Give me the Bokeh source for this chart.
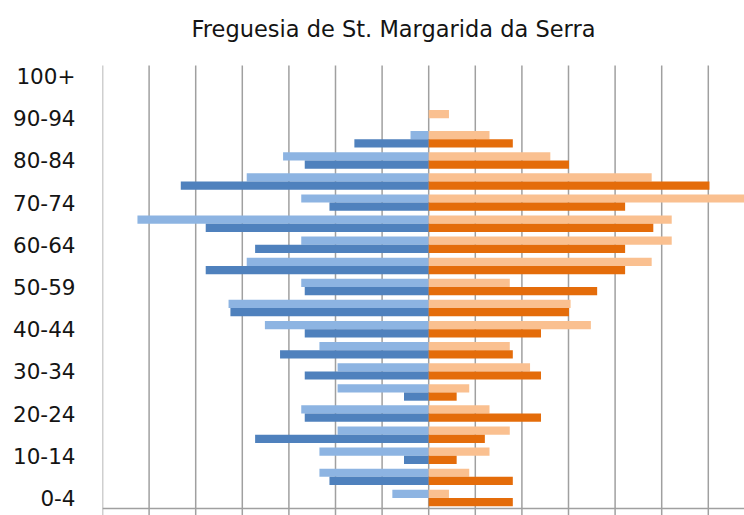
from bokeh.plotting import figure
from bokeh.models import Range1d, FixedTicker, ColumnDataSource, Span, Label
from bokeh.transform import dodge
from bokeh.embed import file_html
from bokeh.resources import INLINE

# Age groups, bottom to top (labels as printed on the original chart)
ages = ["0-4", "5-9", "10-14", "15-19", "20-24", "25-29", "30-34", "35-39",
        "40-44", "45-49", "50-59", "55-59", "60-64", "65-69", "70-74", "75-79",
        "80-84", "85-89", "90-94", "95-99", "100+"]
shown_labels = ["0-4", "10-14", "20-24", "30-34", "40-44", "50-59", "60-64",
                "70-74", "80-84", "90-94", "100+"]

# Percent of population in each age group
male_light = [1.56, 4.69, 4.69, 3.91, 5.47, 3.91, 3.91, 4.69, 7.03, 8.59, 5.47,
              7.81, 5.47, 12.50, 5.47, 7.81, 6.25, 0.78, 0, 0, 0]
male_dark = [0, 4.26, 1.06, 7.45, 5.32, 1.06, 5.32, 6.38, 5.32, 8.51, 5.32,
             9.57, 7.45, 9.57, 4.26, 10.64, 5.32, 3.19, 0, 0, 0]
female_light = [0.87, 1.74, 2.61, 3.48, 2.61, 1.74, 4.35, 3.48, 6.96, 6.09, 3.48,
                9.57, 10.43, 10.43, 13.91, 9.57, 5.22, 2.61, 0.87, 0, 0]
female_dark = [3.61, 3.61, 1.20, 2.41, 4.82, 1.20, 4.82, 3.61, 4.82, 6.02, 7.23,
               8.43, 8.43, 9.64, 8.43, 12.05, 6.02, 3.61, 0, 0, 0]

grid_ticks = [-14, -12, -10, -8, -6, -4, -2, 0, 2, 4, 6, 8, 10, 12]
title_text = "Freguesia de St. Margarida da Serra"

n = len(ages)
ypos = list(range(n))
source = ColumnDataSource(dict(
    ypos=ypos,
    age=ages,
    male_light=[-v for v in male_light],
    male_dark=[-v for v in male_dark],
    female_light=female_light,
    female_dark=female_dark,
))

W, H = 744, 515
LEFT = 102
PX = 443 / n                     # pixels per age band
XPX = 23.3                       # pixels per percent
cat_lo, cat_hi = -0.5, n - 0.5   # extent of the age bands
y_lo = cat_lo - 7 / PX           # room for tick marks below the base line
y_hi = cat_hi + 65 / PX          # room for the title above the bands

p = figure(width=W, height=H, output_backend="svg",
           toolbar_location=None, x_axis_location=None,
           y_range=Range1d(y_lo, y_hi),
           x_range=Range1d(-14, -14 + (W - LEFT) / XPX),
           min_border_left=LEFT, min_border_right=0, min_border_top=0,
           min_border_bottom=0)

LIGHT_BLUE = "#8DB4E2"
DARK_BLUE = "#4F81BD"
LIGHT_ORANGE = "#FAC090"
DARK_ORANGE = "#E46C0A"
GRID = "#A0A0A0"
FONT = "DejaVu Sans"

# vertical grid lines (extending below the base line as tick marks)
p.segment(x0=grid_ticks, x1=grid_ticks, y0=[y_lo] * len(grid_ticks),
          y1=[cat_hi] * len(grid_ticks), line_color=GRID, line_width=1.5)
p.xgrid.visible = False
p.ygrid.visible = False

h = 0.39
p.hbar(y=dodge("ypos", 0.195), left="male_light", right=0,
       height=h, source=source, fill_color=LIGHT_BLUE, line_color=None)
p.hbar(y=dodge("ypos", -0.195), left="male_dark", right=0,
       height=h, source=source, fill_color=DARK_BLUE, line_color=None)
p.hbar(y=dodge("ypos", 0.195), left=0, right="female_light",
       height=h, source=source, fill_color=LIGHT_ORANGE, line_color=None)
p.hbar(y=dodge("ypos", -0.195), left=0, right="female_dark",
       height=h, source=source, fill_color=DARK_ORANGE, line_color=None)

# category axis base line
p.add_layout(Span(location=cat_lo, dimension="width", line_color=GRID,
                  line_width=1.5))

p.yaxis.ticker = FixedTicker(ticks=[i for i, a in zip(ypos, ages) if a in shown_labels])
p.yaxis.major_label_overrides = {i: a for i, a in zip(ypos, ages) if a in shown_labels}
p.yaxis.axis_line_color = None
p.yaxis.major_tick_line_color = None
p.yaxis.minor_tick_line_color = None
p.yaxis.major_tick_out = 0
p.yaxis.major_tick_in = 0
p.yaxis.major_label_standoff = 27
p.yaxis.major_label_text_font = FONT
p.yaxis.major_label_text_font_size = "21.5px"
p.yaxis.major_label_text_color = "#141414"

# chart title
p.add_layout(Label(x=-14 + (191 - LEFT) / XPX, y=cat_hi + (65 - 28.3) / PX,
                   text=title_text, text_font=FONT, text_font_size="22.5px",
                   text_color="#141414", text_baseline="alphabetic",
                   text_align="left"))

p.outline_line_color = None
p.background_fill_color = "white"
p.border_fill_color = "white"

open("out.html", "w").write(file_html(p, INLINE))
